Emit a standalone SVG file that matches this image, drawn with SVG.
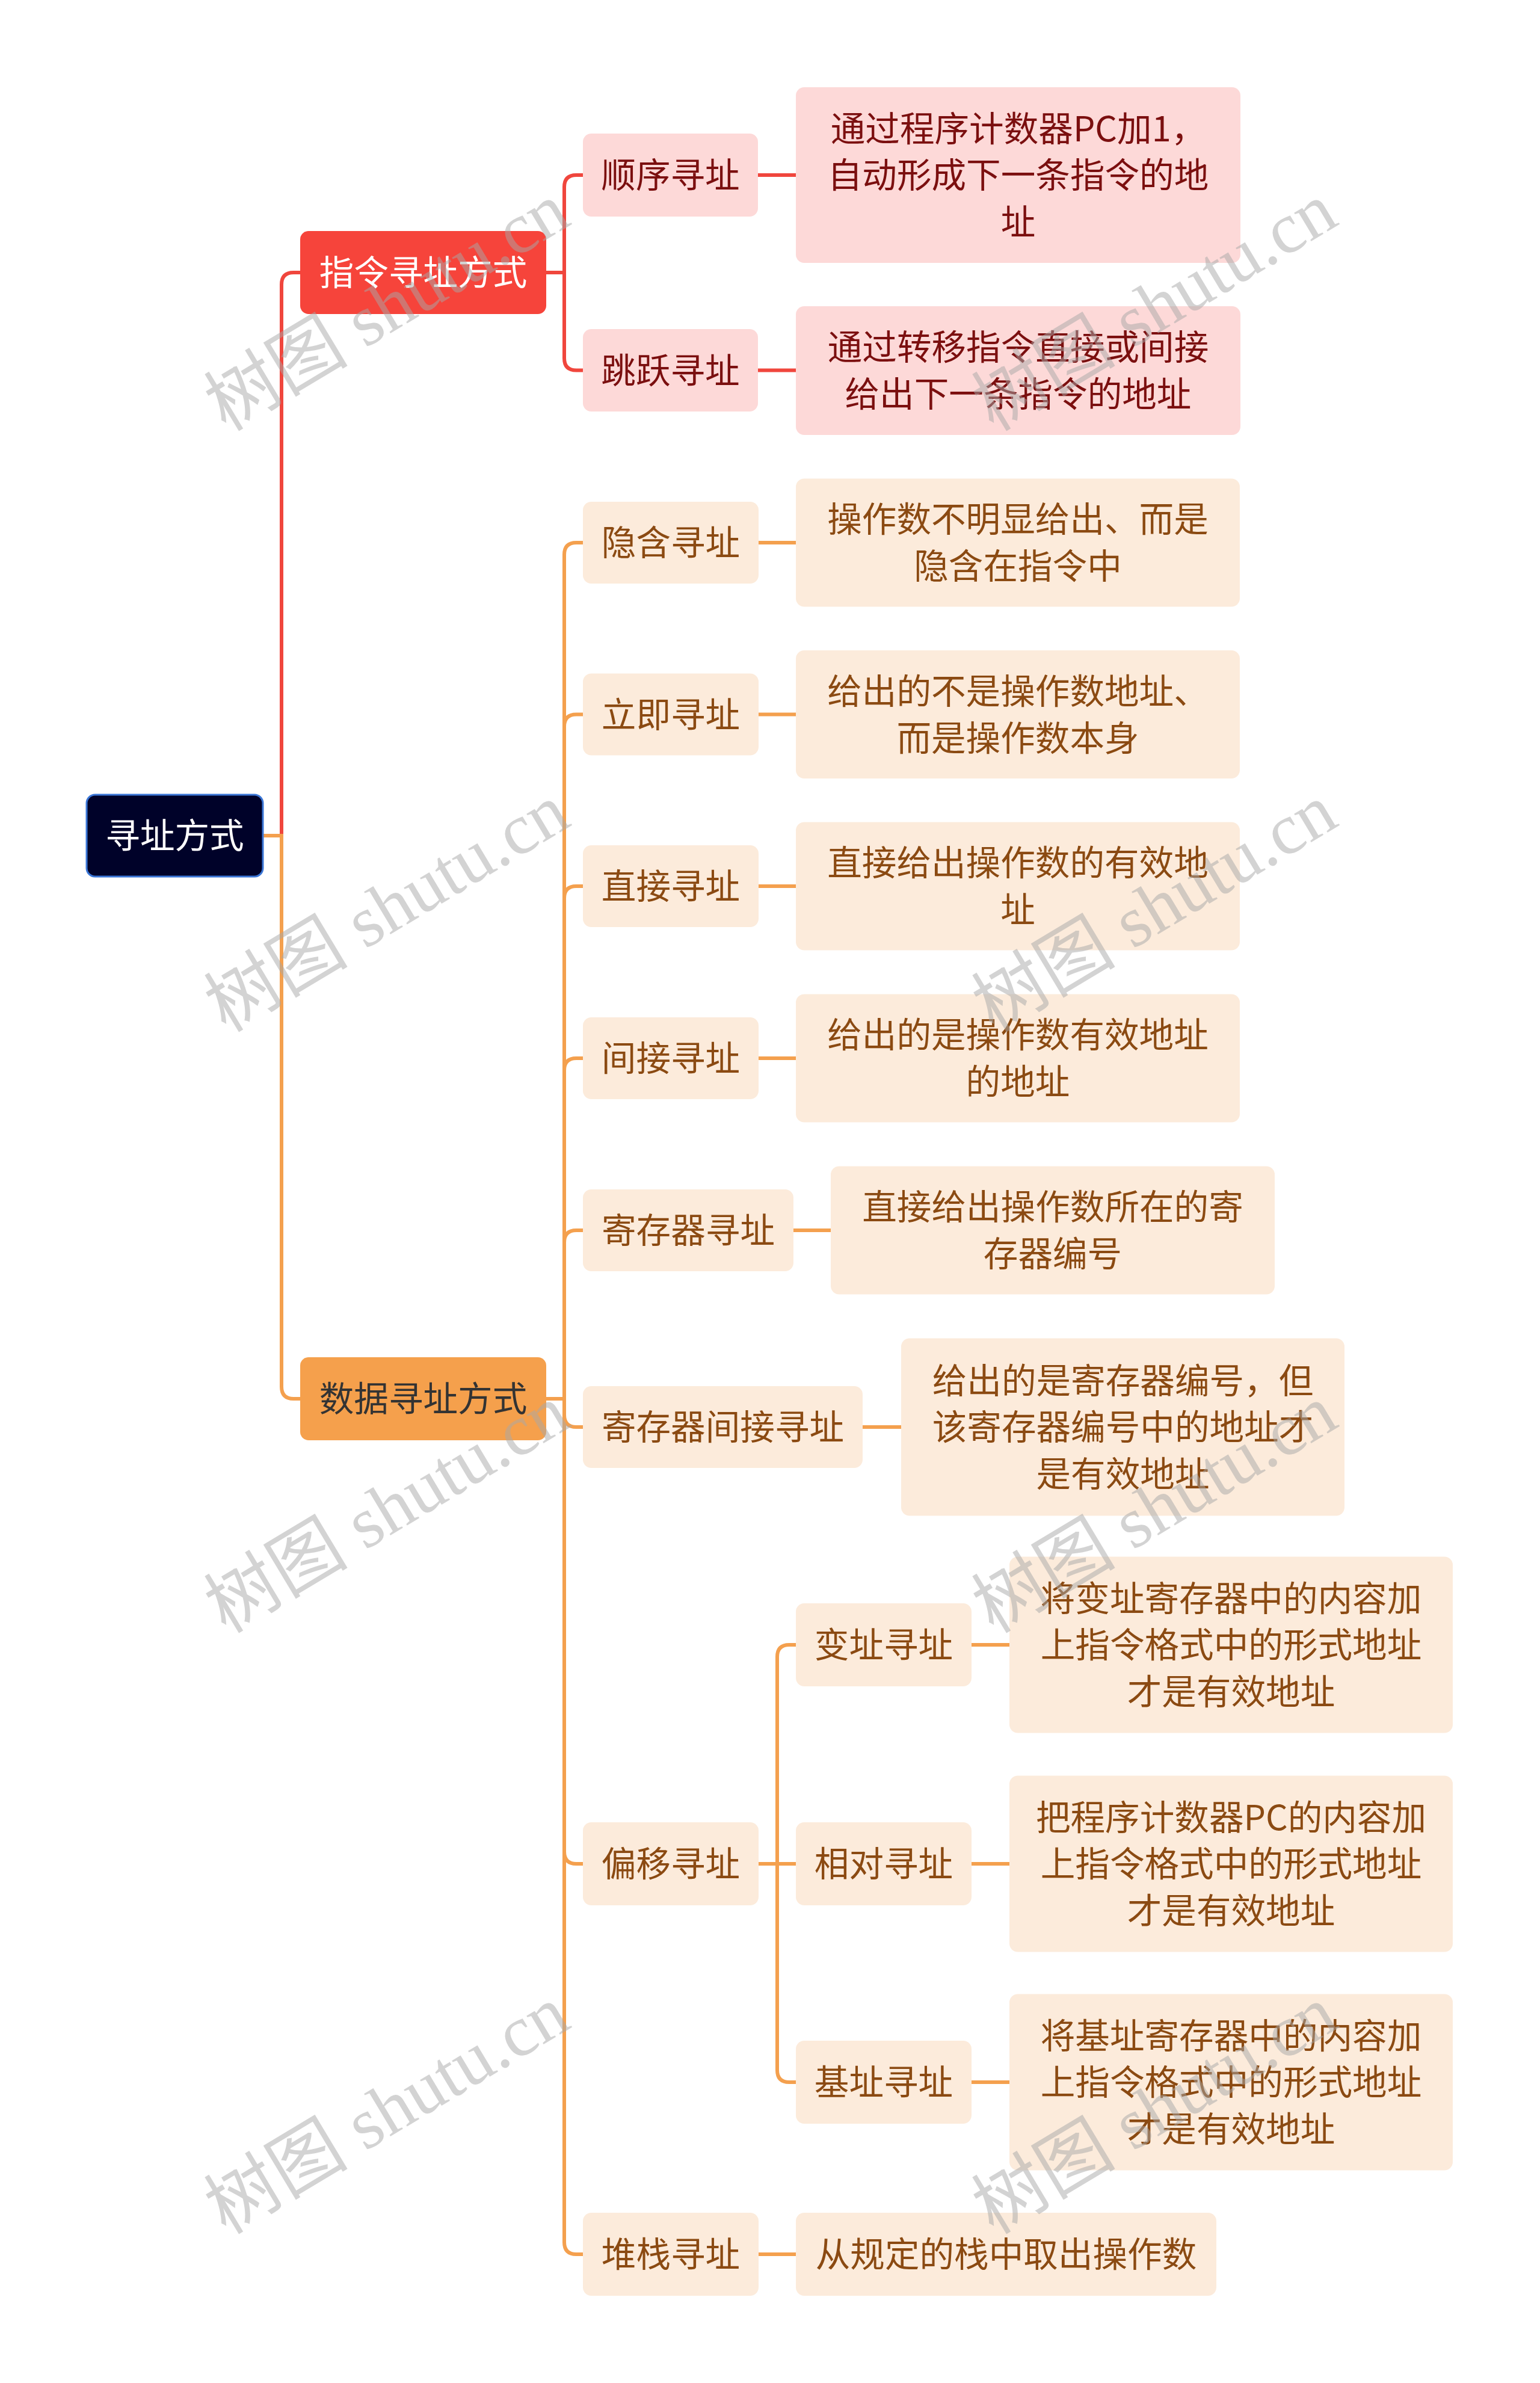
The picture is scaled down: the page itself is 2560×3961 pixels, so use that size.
<svg xmlns="http://www.w3.org/2000/svg" width="2560" height="3961" viewBox="0 0 2560 3961">
<style>
text{font-family:"Noto Sans CJK SC","Noto Sans",sans-serif;font-size:57.6px;text-anchor:middle}
.root rect{fill:#000229;stroke:#3b76d6;stroke-width:3}
.root text{fill:#ffffff}
.l1r rect{fill:#f6443b}
.l1r text{fill:#ffffff}
.l1o rect{fill:#f5a04c}
.l1o text{fill:#333333}
.r rect{fill:#fdd9d8}
.r text{fill:#7b0f0f}
.o rect{fill:#fcebdb}
.o text{fill:#8b4a12}
.cr{fill:none;stroke:#f0463d;stroke-width:6}
.co{fill:none;stroke:#f4a04e;stroke-width:6}
.wm text{font-family:"Liberation Serif","Noto Sans CJK SC",serif;font-size:120px;fill:#a8a8a8;opacity:0.5}
</style>
<g id="connectors">
<path class="cr" d="M437,1389 H468 V473 Q468,453 488,453 H499"/>
<path class="co" d="M437,1389 H468 V2305 Q468,2325 488,2325 H499"/>
<path class="cr" d="M908,453 H938 V311 Q938,291 958,291 H969"/>
<path class="cr" d="M908,453 H938 V595.5 Q938,615.5 958,615.5 H969"/>
<path class="cr" d="M1260,291 H1323"/>
<path class="cr" d="M1260,615.5 H1323"/>
<path class="co" d="M908,2325 H938 V922 Q938,902 958,902 H969"/>
<path class="co" d="M908,2325 H938 V1207.5 Q938,1187.5 958,1187.5 H969"/>
<path class="co" d="M908,2325 H938 V1493 Q938,1473 958,1473 H969"/>
<path class="co" d="M908,2325 H938 V1779 Q938,1759 958,1759 H969"/>
<path class="co" d="M908,2325 H938 V2065 Q938,2045 958,2045 H969"/>
<path class="co" d="M908,2325 H938 V2352 Q938,2372 958,2372 H969"/>
<path class="co" d="M908,2325 H938 V3078 Q938,3098 958,3098 H969"/>
<path class="co" d="M908,2325 H938 V3727 Q938,3747 958,3747 H969"/>
<path class="co" d="M1261,902 H1323"/>
<path class="co" d="M1261,1187.5 H1323"/>
<path class="co" d="M1261,1473 H1323"/>
<path class="co" d="M1261,1759 H1323"/>
<path class="co" d="M1319,2045 H1381"/>
<path class="co" d="M1434,2372 H1498"/>
<path class="co" d="M1261,3098 H1292 V2754 Q1292,2734 1312,2734 H1323"/>
<path class="co" d="M1261,3098 H1323"/>
<path class="co" d="M1261,3098 H1292 V3441 Q1292,3461 1312,3461 H1323"/>
<path class="co" d="M1615,2734 H1678"/>
<path class="co" d="M1615,3098 H1678"/>
<path class="co" d="M1615,3461 H1678"/>
<path class="co" d="M1261,3747 H1323"/>
</g>
<g id="root" class="root"><rect x="144" y="1321" width="293" height="136" rx="14"/><text x="290.5" y="1410">寻址方式</text></g>
<g id="n-zhiling" class="l1r"><rect x="499" y="384" width="409" height="138" rx="14"/><text x="703.5" y="474">指令寻址方式</text></g>
<g id="n-shuju" class="l1o"><rect x="499" y="2256" width="409" height="138" rx="14"/><text x="703.5" y="2346">数据寻址方式</text></g>
<g id="n-shunxu" class="r"><rect x="969" y="222" width="291" height="138" rx="14"/><text x="1114.5" y="312">顺序寻址</text></g>
<g id="d-shunxu" class="r"><rect x="1323" y="145" width="739" height="292" rx="14"/><text x="1692.5" y="234.5">通过程序计数器PC加1，</text><text x="1692.5" y="312">自动形成下一条指令的地</text><text x="1692.5" y="389.5">址</text></g>
<g id="n-tiaoyue" class="r"><rect x="969" y="547" width="291" height="137" rx="14"/><text x="1114.5" y="636.5">跳跃寻址</text></g>
<g id="d-tiaoyue" class="r"><rect x="1323" y="509" width="739" height="214" rx="14"/><text x="1692.5" y="598">通过转移指令直接或间接</text><text x="1692.5" y="675.5">给出下一条指令的地址</text></g>
<g id="n-yinhan" class="o"><rect x="969" y="834" width="292" height="136" rx="14"/><text x="1115" y="923">隐含寻址</text></g>
<g id="d-yinhan" class="o"><rect x="1323" y="795.5" width="738" height="213" rx="14"/><text x="1692" y="884">操作数不明显给出、而是</text><text x="1692" y="962">隐含在指令中</text></g>
<g id="n-liji" class="o"><rect x="969" y="1119.5" width="292" height="136" rx="14"/><text x="1115" y="1208.5">立即寻址</text></g>
<g id="d-liji" class="o"><rect x="1323" y="1081" width="738" height="213" rx="14"/><text x="1692" y="1169.5">给出的不是操作数地址、</text><text x="1692" y="1247.5">而是操作数本身</text></g>
<g id="n-zhijie" class="o"><rect x="969" y="1405" width="292" height="136" rx="14"/><text x="1115" y="1494">直接寻址</text></g>
<g id="d-zhijie" class="o"><rect x="1323" y="1366.5" width="738" height="213" rx="14"/><text x="1692" y="1455">直接给出操作数的有效地</text><text x="1692" y="1533">址</text></g>
<g id="n-jianjie" class="o"><rect x="969" y="1691" width="292" height="136" rx="14"/><text x="1115" y="1780">间接寻址</text></g>
<g id="d-jianjie" class="o"><rect x="1323" y="1652.5" width="738" height="213" rx="14"/><text x="1692" y="1741">给出的是操作数有效地址</text><text x="1692" y="1819">的地址</text></g>
<g id="n-jicunqi" class="o"><rect x="969" y="1977" width="350" height="136" rx="14"/><text x="1144" y="2066">寄存器寻址</text></g>
<g id="d-jicunqi" class="o"><rect x="1381" y="1938.5" width="738" height="213" rx="14"/><text x="1750" y="2027">直接给出操作数所在的寄</text><text x="1750" y="2105">存器编号</text></g>
<g id="n-jicunqijianjie" class="o"><rect x="969" y="2304" width="465" height="136" rx="14"/><text x="1201.5" y="2393">寄存器间接寻址</text></g>
<g id="d-jicunqijianjie" class="o"><rect x="1498" y="2224.5" width="737" height="295" rx="14"/><text x="1866.5" y="2315.5">给出的是寄存器编号，但</text><text x="1866.5" y="2393">该寄存器编号中的地址才</text><text x="1866.5" y="2470.5">是有效地址</text></g>
<g id="n-pianyi" class="o"><rect x="969" y="3029" width="292" height="138" rx="14"/><text x="1115" y="3119">偏移寻址</text></g>
<g id="n-bianzhi" class="o"><rect x="1323" y="2665" width="292" height="138" rx="14"/><text x="1469" y="2755">变址寻址</text></g>
<g id="d-bianzhi" class="o"><rect x="1678" y="2587.5" width="737" height="293" rx="14"/><text x="2046.5" y="2677.5">将变址寄存器中的内容加</text><text x="2046.5" y="2755">上指令格式中的形式地址</text><text x="2046.5" y="2832.5">才是有效地址</text></g>
<g id="n-xiangdui" class="o"><rect x="1323" y="3029" width="292" height="138" rx="14"/><text x="1469" y="3119">相对寻址</text></g>
<g id="d-xiangdui" class="o"><rect x="1678" y="2951.5" width="737" height="293" rx="14"/><text x="2046.5" y="3041.5">把程序计数器PC的内容加</text><text x="2046.5" y="3119">上指令格式中的形式地址</text><text x="2046.5" y="3196.5">才是有效地址</text></g>
<g id="n-jizhi" class="o"><rect x="1323" y="3392" width="292" height="138" rx="14"/><text x="1469" y="3482">基址寻址</text></g>
<g id="d-jizhi" class="o"><rect x="1678" y="3314.5" width="737" height="293" rx="14"/><text x="2046.5" y="3404.5">将基址寄存器中的内容加</text><text x="2046.5" y="3482">上指令格式中的形式地址</text><text x="2046.5" y="3559.5">才是有效地址</text></g>
<g id="n-duizhan" class="o"><rect x="969" y="3678" width="292" height="138" rx="14"/><text x="1115" y="3768">堆栈寻址</text></g>
<g id="d-duizhan" class="o"><rect x="1323" y="3678" width="699" height="138" rx="14"/><text x="1672.5" y="3768">从规定的栈中取出操作数</text></g>
<g id="watermarks" class="wm">
<text transform="translate(664,545) rotate(-31)">树图 shutu.cn</text>
<text transform="translate(664,1544) rotate(-31)">树图 shutu.cn</text>
<text transform="translate(664,2543) rotate(-31)">树图 shutu.cn</text>
<text transform="translate(664,3542) rotate(-31)">树图 shutu.cn</text>
<text transform="translate(1940,545) rotate(-31)">树图 shutu.cn</text>
<text transform="translate(1940,1544) rotate(-31)">树图 shutu.cn</text>
<text transform="translate(1940,2543) rotate(-31)">树图 shutu.cn</text>
<text transform="translate(1940,3542) rotate(-31)">树图 shutu.cn</text>
</g>
</svg>
